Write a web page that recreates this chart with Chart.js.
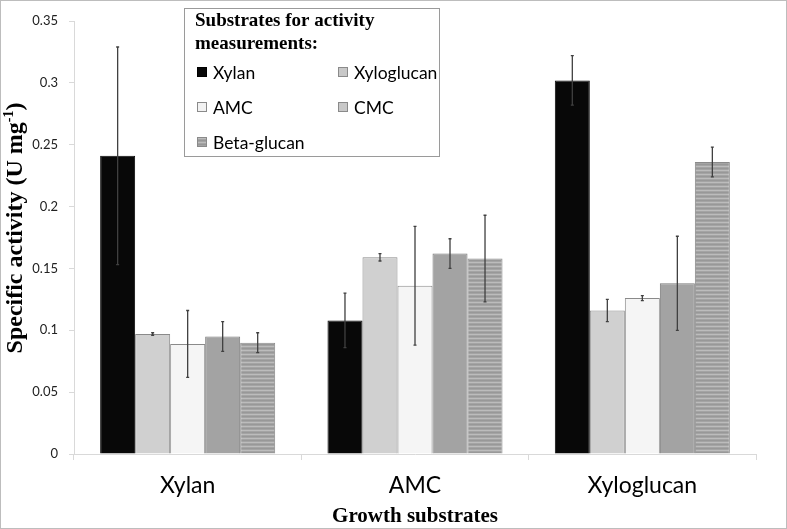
<!DOCTYPE html>
<html>
<head>
<meta charset="utf-8">
<script src="https://cdn.jsdelivr.net/npm/chart.js@4.4.1/dist/chart.umd.min.js"></script>
<style>
html,body{margin:0;padding:0;background:#fff;}
#wrap{position:relative;width:787px;height:529px;box-sizing:border-box;border:1px solid #bdbdbd;}
canvas{display:block;}
</style>
</head>
<body>
<div id="wrap"><canvas id="c" width="785" height="527"></canvas></div>
<script>
const categories = ['Xylan', 'AMC', 'Xyloglucan'];
const seriesNames = ['Xylan', 'Xyloglucan', 'AMC', 'CMC', 'Beta-glucan'];
const xylanVals      = [0.241, 0.108, 0.302];
const xylanErr       = [0.088, 0.022, 0.020];
const xyloglucanVals = [0.097, 0.159, 0.116];
const xyloglucanErr  = [0.001, 0.003, 0.009];
const amcVals        = [0.089, 0.136, 0.126];
const amcErr         = [0.027, 0.048, 0.002];
const cmcVals        = [0.095, 0.162, 0.138];
const cmcErr         = [0.012, 0.012, 0.038];
const betaVals       = [0.090, 0.158, 0.236];
const betaErr        = [0.008, 0.035, 0.012];
const yTicks = [0, 0.05, 0.1, 0.15, 0.2, 0.25, 0.3, 0.35];
const legendTitle = ['Substrates for activity', 'measurements:'];
const yTitle = 'Specific activity (U mg';
const yTitleSup = '-1';
const xTitle = 'Growth substrates';

function stripePattern(){
  const p = document.createElement('canvas');
  p.width = 4; p.height = 4;
  const g = p.getContext('2d');
  g.fillStyle = '#a4a4a4'; g.fillRect(0,0,4,4);
  g.fillStyle = '#bcbcbc'; g.fillRect(0,1,4,1);
  g.fillStyle = '#989898'; g.fillRect(0,3,4,1);
  return document.getElementById('c').getContext('2d').createPattern(p,'repeat');
}
const stripes = stripePattern();

const valuesList = [xylanVals, xyloglucanVals, amcVals, cmcVals, betaVals];
const errList = [xylanErr, xyloglucanErr, amcErr, cmcErr, betaErr];
const fills = ['#080808', '#d0d0d0', '#f5f5f5', '#a3a3a3', stripes];
const borders = ['#080808', '#8a8a8a', '#8a8a8a', '#7a7a7a', '#8a8a8a'];
const legendFills = ['#080808', '#c8c8c8', '#f2f2f2', '#c8c8c8', stripes];

const datasets = seriesNames.map((n,i)=>({
  label: n,
  data: valuesList[i],
  errors: errList[i],
  backgroundColor: fills[i],
  borderColor: borders[i],
  borderWidth: 1,
  categoryPercentage: 0.77,
  barPercentage: 1.0
}));

const PLOT_LEFT = 73, PLOT_BOTTOM = 453;

const errorBars = {
  id: 'errorBars',
  afterDatasetsDraw(chart){
    const ctx = chart.ctx, y = chart.scales.y;
    ctx.save();
    chart.data.datasets.forEach((ds,di)=>{
      const meta = chart.getDatasetMeta(di);
      meta.data.forEach((el,i)=>{
        const v = ds.data[i], e = ds.errors[i];
        const yt = y.getPixelForValue(v+e), yb = y.getPixelForValue(v-e);
        ctx.strokeStyle = '#404040';
        ctx.lineWidth = 1.3;
        ctx.beginPath();
        ctx.moveTo(el.x, yt); ctx.lineTo(el.x, yb);
        ctx.moveTo(el.x-1.5, yt); ctx.lineTo(el.x+1.5, yt);
        ctx.moveTo(el.x-1.5, yb); ctx.lineTo(el.x+1.5, yb);
        ctx.stroke();
      });
    });
    ctx.restore();
  }
};

const decorations = {
  id: 'decorations',
  afterDraw(chart){
    const ctx = chart.ctx;
    ctx.save();
    // y title
    const mainFont = 'bold 24px "Liberation Serif"';
    const supFont = 'bold 14px "Liberation Serif"';
    ctx.translate(21, 227);
    ctx.rotate(-Math.PI/2);
    ctx.fillStyle = '#000';
    ctx.font = mainFont;
    const w1 = ctx.measureText(yTitle).width;
    ctx.font = supFont;
    const w2 = ctx.measureText(yTitleSup).width;
    ctx.font = mainFont;
    const w3 = ctx.measureText(')').width;
    const total = w1 + w2 + w3;
    let x0 = -total/2;
    ctx.textBaseline = 'alphabetic';
    ctx.textAlign = 'left';
    ctx.fillText(yTitle, x0, 0);
    ctx.font = supFont;
    ctx.fillText(yTitleSup, x0 + w1, -9);
    ctx.font = mainFont;
    ctx.fillText(')', x0 + w1 + w2, 0);
    ctx.restore();

    // x title
    ctx.save();
    ctx.fillStyle = '#000';
    ctx.font = 'bold 21px "Liberation Serif"';
    ctx.textAlign = 'center';
    ctx.textBaseline = 'alphabetic';
    const ca = chart.chartArea;
    ctx.fillText(xTitle, (ca.left + ca.right)/2, 521);
    ctx.restore();

    // legend
    ctx.save();
    const bx = 183, by = 7, bw = 255, bh = 148;
    ctx.fillStyle = '#fff';
    ctx.fillRect(bx, by, bw, bh);
    ctx.strokeStyle = '#9a9a9a';
    ctx.lineWidth = 1;
    ctx.strokeRect(bx+0.5, by+0.5, bw, bh);
    ctx.fillStyle = '#000';
    ctx.font = 'bold 19px "Liberation Serif"';
    ctx.textAlign = 'left';
    ctx.textBaseline = 'alphabetic';
    ctx.fillText(legendTitle[0], 194, 25);
    ctx.fillText(legendTitle[1], 194, 48);
    const pos = [[196,71],[337,71],[196,106],[337,106],[196,141]];
    ctx.font = '17.5px Lato';
    ctx.textBaseline = 'middle';
    chart.data.datasets.forEach((ds,i)=>{
      const [px,py] = pos[i];
      ctx.fillStyle = legendFills[i];
      ctx.fillRect(px, py-5, 10, 10);
      ctx.strokeStyle = i===0 ? '#000' : '#8a8a8a';
      ctx.strokeRect(px+0.5, py-4.5, 9, 9);
      ctx.fillStyle = '#000';
      ctx.fillText(ds.label, px+16, py+1);
    });
    ctx.restore();
  }
};

new Chart(document.getElementById('c'), {
  type: 'bar',
  data: { labels: categories, datasets },
  options: {
    responsive: false,
    animation: false,
    layout: { padding: { left: 0, right: 30, top: 20, bottom: 0 } },
    plugins: { legend: { display: false }, tooltip: { enabled: false } },
    scales: {
      x: {
        offset: true,
        grid: { display: true, drawOnChartArea: false, drawTicks: true, tickLength: 6, color: '#d9d9d9', offset: true },
        border: { color: '#d9d9d9' },
        ticks: { color: '#000', font: { family: 'Lato', size: 23 }, padding: 12 },
        afterFit(s){ s.height = 527 - PLOT_BOTTOM; }
      },
      y: {
        min: 0, max: 0.35,
        afterBuildTicks(s){ s.ticks = yTicks.map(v=>({value:v})); },
        grid: { display: true, drawOnChartArea: false, drawTicks: true, tickLength: 5, color: '#d9d9d9' },
        border: { color: '#d9d9d9' },
        ticks: { color: '#222', font: { family: 'Lato', size: 13 }, padding: 11,
          callback: v => String(+(+v).toFixed(2)) },
        afterFit(s){ s.width = PLOT_LEFT; }
      }
    }
  },
  plugins: [errorBars, decorations]
});
</script>
</body>
</html>
